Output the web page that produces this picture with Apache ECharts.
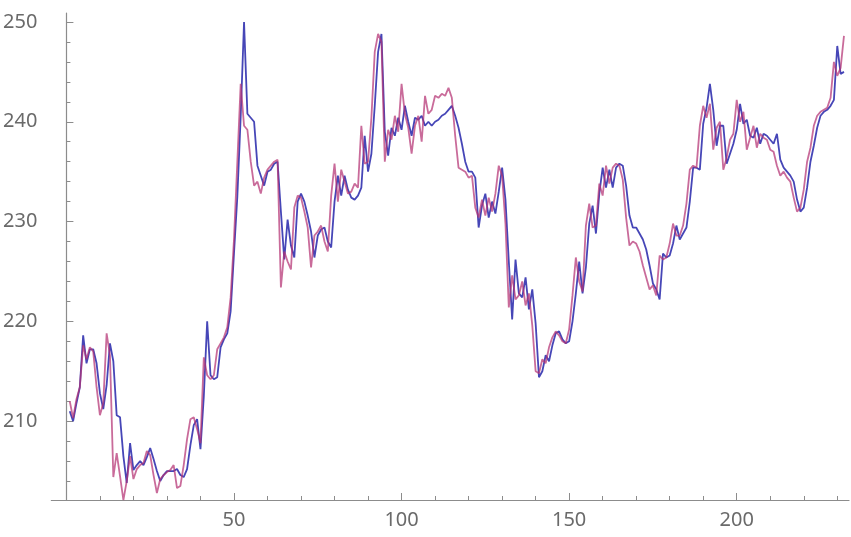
<!DOCTYPE html>
<html>
<head>
<meta charset="utf-8">
<script src="https://cdn.jsdelivr.net/npm/echarts@6.0.0/dist/echarts.min.js"></script>
<style>
    html, body { margin: 0; padding: 0; background: #fff; }
    #chart { width: 851px; height: 537px; }
</style>
</head>
<body>
<div id="chart"></div>
<script>
// 数据 (index 1..232)
var purpleValues = [
    212.0, 210.3, 212.2, 213.4, 217.6, 216.2, 217.4, 217.0, 213.4, 210.6,
    211.8, 218.8, 216.6, 204.4, 206.8, 204.5, 202.1, 204.0, 206.5, 204.2,
    205.2, 205.6, 205.8, 207.0, 206.6, 204.6, 202.8, 204.2, 204.6, 204.9,
    205.1, 205.6, 203.3, 203.5, 205.6, 208.2, 210.2, 210.4, 209.2, 207.8,
    216.4, 214.6, 214.2, 214.6, 217.2, 217.8, 218.4, 219.4, 222.4, 228.2,
    236.0, 243.8, 239.6, 239.2, 236.0, 233.6, 234.0, 232.8, 234.4, 235.2,
    235.6, 236.0, 236.2, 223.4, 227.0, 226.0, 225.2, 231.4, 232.6, 232.4,
    231.0, 229.4, 225.4, 228.6, 229.0, 229.6, 228.0, 227.0, 232.6, 235.8,
    232.0, 235.2, 234.0, 232.8, 233.0, 233.8, 233.4, 239.6, 235.8, 236.0,
    240.4, 247.0, 248.8, 248.0, 236.0, 239.2, 238.2, 240.6, 239.0, 243.8,
    240.8, 239.4, 236.8, 239.6, 240.6, 238.0, 242.6, 240.8, 241.2, 242.6,
    242.4, 242.8, 242.6, 243.4, 242.4, 238.6, 235.4, 235.2, 235.0, 234.4,
    234.6, 231.4, 230.4, 232.2, 230.6, 232.4, 231.0, 232.8, 235.6, 234.6,
    229.8, 221.4, 224.6, 222.2, 222.6, 224.0, 221.6, 222.8, 219.6, 215.0,
    214.8, 216.2, 215.8, 217.4, 218.4, 219.0, 218.6, 218.0, 217.8, 219.2,
    222.6, 226.4, 224.0, 223.0, 229.6, 231.8, 229.4, 229.6, 233.8, 232.6,
    235.6, 233.8, 235.4, 235.8, 235.6, 234.2, 230.4, 227.6, 228.0, 227.8,
    227.0, 225.6, 224.4, 223.2, 223.6, 222.6, 226.6, 226.2, 226.4, 227.8,
    229.8, 228.6, 228.6, 229.6, 231.8, 235.2, 235.6, 235.4, 239.6, 241.6,
    240.4, 241.8, 237.2, 239.4, 240.0, 235.2, 236.4, 238.2, 238.8, 242.2,
    240.0, 241.0, 237.2, 238.4, 239.6, 237.4, 238.8, 238.4, 238.2, 237.2,
    237.0, 235.6, 234.6, 235.0, 234.4, 234.0, 232.4, 231.0, 231.4, 233.2,
    236.0, 237.4, 239.6, 240.6, 241.0, 241.2, 241.4, 242.4, 246.0, 244.6,
    245.4, 248.6
];
var blueValues = [
    211.0, 210.0, 211.8, 213.4, 218.6, 215.8, 217.2, 217.2, 215.8, 212.8,
    211.2, 213.6, 217.8, 216.0, 210.6, 210.4, 206.5, 203.8, 207.8, 205.1,
    205.6, 206.0, 205.6, 206.4, 207.3, 206.2, 205.0, 204.0, 204.6, 205.0,
    205.0, 205.0, 205.2, 204.6, 204.4, 205.2, 207.6, 209.6, 210.2, 207.2,
    212.5, 220.0, 214.6, 214.2, 214.4, 217.4, 218.2, 218.8, 221.0, 226.8,
    232.5, 240.5, 250.0, 240.8, 240.4, 240.0, 235.6, 234.6, 233.6, 235.0,
    235.2, 235.8, 236.0, 231.0, 226.2, 230.2, 227.6, 226.4, 232.0, 232.8,
    232.0, 230.6, 229.0, 226.4, 228.6, 229.2, 229.4, 228.0, 227.4, 232.0,
    234.6, 232.6, 234.6, 233.2, 232.4, 232.2, 232.6, 233.4, 238.6, 235.0,
    236.8, 241.6, 247.0, 248.8, 239.0, 236.6, 239.4, 238.6, 240.4, 239.2,
    241.6, 240.0, 238.6, 240.4, 240.2, 240.6, 239.6, 240.0, 239.6, 240.0,
    240.2, 240.6, 240.8, 241.2, 241.6, 240.6, 239.4, 237.8, 236.0, 235.0,
    235.0, 234.4, 229.4, 231.6, 232.8, 230.4, 232.0, 230.8, 233.0, 235.4,
    232.2, 226.0, 220.2, 226.2, 222.8, 222.4, 224.4, 221.2, 223.2, 219.8,
    214.4, 215.0, 216.6, 216.0, 217.6, 218.8, 219.0, 218.2, 217.8, 218.0,
    220.0, 222.8, 226.0, 222.8, 225.4, 229.8, 231.6, 228.8, 232.8, 235.4,
    233.4, 235.2, 233.4, 235.4, 235.8, 235.6, 233.6, 230.6, 229.4, 229.4,
    228.8, 228.2, 227.2, 225.6, 223.8, 223.2, 222.2, 226.8, 226.4, 226.6,
    227.8, 229.6, 228.2, 228.8, 229.4, 232.0, 235.4, 235.4, 235.2, 239.8,
    241.4, 243.8, 241.2, 237.6, 239.6, 239.6, 235.8, 236.8, 237.8, 239.2,
    241.8, 239.8, 240.2, 238.6, 238.4, 239.4, 237.8, 238.8, 238.6, 238.2,
    237.8, 238.8, 236.2, 235.4, 235.0, 234.6, 234.0, 232.2, 231.0, 231.4,
    233.4, 236.0, 237.6, 239.4, 240.6, 241.0, 241.2, 241.6, 242.2, 247.6,
    244.8, 245.0
];

// 刻度
var xMajorTicks = [50, 100, 150, 200];
var xMinorTicks = [10, 20, 30, 40, 60, 70, 80, 90, 110, 120, 130, 140, 160, 170, 180, 190, 210, 220, 230];
var yMajorTicks = [210, 220, 230, 240, 250];
var yMinorTicks = [204, 206, 208, 212, 214, 216, 218, 222, 224, 226, 228, 232, 234, 236, 238, 242, 244, 246, 248];

function toPairs(values) {
    var out = [];
    for (var i = 0; i < values.length; i++) {
        out.push([i + 1, values[i]]);
    }
    return out;
}

var axisColor = '#8c8c8c';
var labelStyle = {
    color: '#6a6a6a',
    fontSize: 20,
    fontFamily: 'Noto Sans'
};

function xAxisDef(ticks, len, showLabel, showLine) {
    return {
        type: 'value',
        position: 'bottom',
        min: -4.5,
        max: 233.5,
        axisLine: {show: showLine, onZero: false, lineStyle: {color: axisColor, width: 1.2}},
        axisTick: {show: true, inside: true, length: len, customValues: ticks, lineStyle: {color: axisColor}},
        axisLabel: {show: showLabel, customValues: ticks, margin: 10, color: labelStyle.color,
            fontSize: labelStyle.fontSize, fontFamily: labelStyle.fontFamily},
        splitLine: {show: false}
    };
}

function yAxisDef(ticks, len, showLabel, showLine) {
    return {
        type: 'value',
        position: 'left',
        min: 202.1,
        max: 250.9,
        axisLine: {show: showLine, onZero: true, lineStyle: {color: axisColor, width: 1.2}},
        axisTick: {show: true, inside: true, length: len, customValues: ticks, lineStyle: {color: axisColor}},
        axisLabel: {show: showLabel, customValues: ticks, margin: 14, color: labelStyle.color,
            fontSize: labelStyle.fontSize, fontFamily: labelStyle.fontFamily},
        splitLine: {show: false}
    };
}

var chart = echarts.init(document.getElementById('chart'));
var option = {
    animation: false,
    backgroundColor: '#ffffff',
    grid: {left: 50, right: 2, top: 13, bottom: 37},
    xAxis: [
        xAxisDef(xMajorTicks, 7, true, true),
        xAxisDef(xMinorTicks, 4, false, false)
    ],
    yAxis: [
        yAxisDef(yMajorTicks, 7, true, true),
        yAxisDef(yMinorTicks, 4, false, false)
    ],
    series: [{
        name: 'blue',
        type: 'line',
        xAxisIndex: 0,
        yAxisIndex: 0,
        symbol: 'none',
        lineStyle: {color: 'rgba(50,50,175,0.9)', width: 1.8},
        data: toPairs(blueValues)
    }, {
        name: 'purple',
        type: 'line',
        xAxisIndex: 0,
        yAxisIndex: 0,
        symbol: 'none',
        lineStyle: {color: 'rgba(180,50,115,0.72)', width: 1.8},
        data: toPairs(purpleValues)
    }]
};
chart.setOption(option);
</script>
</body>
</html>
